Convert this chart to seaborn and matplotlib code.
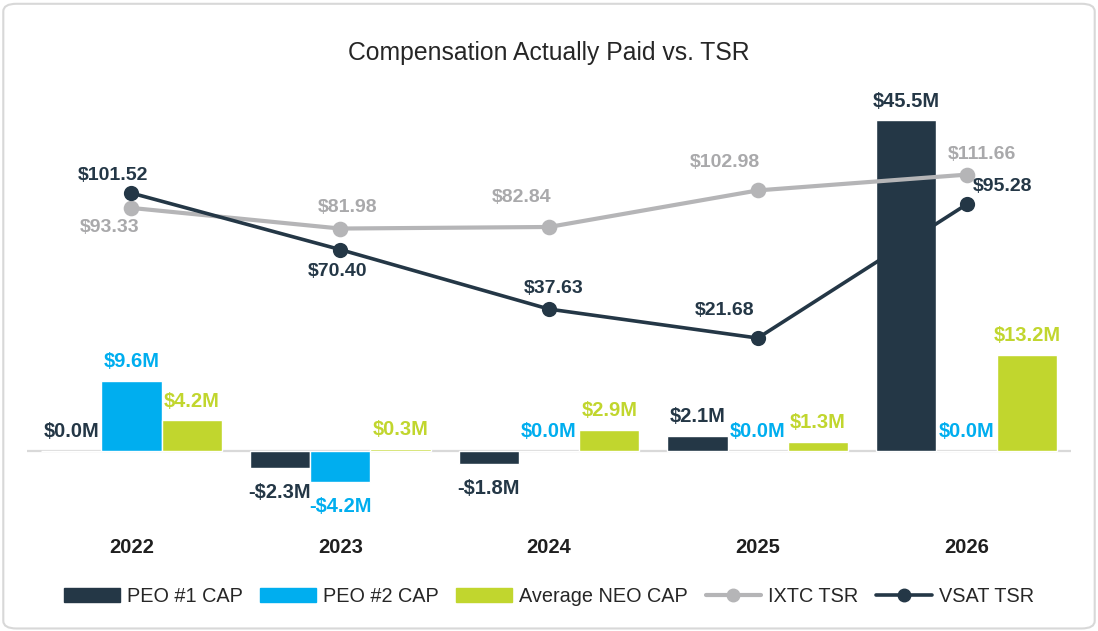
import pandas as pd
import numpy as np
import matplotlib.pyplot as plt
import seaborn as sns
from matplotlib.patches import Patch, FancyBboxPatch
from matplotlib.lines import Line2D

# data
years = ['2022', '2023', '2024', '2025', '2026']
peo1_cap = [0.0, -2.3, -1.8, 2.1, 45.5]
peo2_cap = [9.6, -4.2, 0.0, 0.0, 0.0]
neo_cap = [4.2, 0.3, 2.9, 1.3, 13.2]
ixtc_tsr = [93.33, 81.98, 82.84, 102.98, 111.66]
vsat_tsr = [101.52, 70.40, 37.63, 21.68, 95.28]
series = ['PEO #1 CAP', 'PEO #2 CAP', 'Average NEO CAP']

dark = '#243746'
cyan = '#00AEEF'
lime = '#C1D62E'
grey_line = '#B5B5B7'
grey_text = '#A9A9AB'
colors = {series[0]: dark, series[1]: cyan, series[2]: lime}

bars = pd.DataFrame({
    'year': years * 3,
    'value': peo1_cap + peo2_cap + neo_cap,
    'series': [s for s in series for _ in years],
})

sns.set_style('white')
plt.rcParams['font.family'] = ['Liberation Sans', 'DejaVu Sans']

fig = plt.figure(figsize=(10.98, 6.31), dpi=100)
ax = fig.add_axes([0.0246, 0.1759, 0.9508, 0.6656])

sns.barplot(data=bars, x='year', y='value', hue='series', hue_order=series,
            palette=colors, width=0.865, saturation=1, ax=ax, legend=False)
ax.set_xlim(-0.5, 4.5)
ax.set_ylim(-9.49, 48.28)
ax.axhline(0, color='#D9D9D9', lw=1.6, zorder=0.5)
for s in ax.spines.values():
    s.set_visible(False)
ax.set_yticks([])
ax.set_xlabel('')
ax.set_ylabel('')
ax.tick_params(axis='x', length=0, pad=13, labelsize=14.5)
for t in ax.get_xticklabels():
    t.set_fontweight('bold')
    t.set_color('#1f1f1f')

# positive labels sit a bit closer to the bar than negative ones
for cont, s in zip(ax.containers, series):
    hs = [b.get_height() for b in cont]
    pos = [('$%.1fM' % h) if h >= 0 else '' for h in hs]
    neg = [('-$%.1fM' % abs(h)) if h < 0 else '' for h in hs]
    ax.bar_label(cont, labels=pos, padding=7, fontsize=14.5,
                 fontweight='bold', color=colors[s])
    ax.bar_label(cont, labels=neg, padding=11, fontsize=14.5,
                 fontweight='bold', color=colors[s])

# TSR lines on a hidden second axis
ax2 = ax.twinx()
sns.pointplot(x=years, y=ixtc_tsr, ax=ax2, color=grey_line, errorbar=None,
              markersize=9, linewidth=3)
sns.pointplot(x=years, y=vsat_tsr, ax=ax2, color=dark, errorbar=None,
              markersize=9, linewidth=2.6)
ax2.set_xlim(-0.5, 4.5)
ax2.set_ylim(-78.5, 152.75)
ax2.set_yticks([])
for s in ax2.spines.values():
    s.set_visible(False)

ixtc_off = [(-16, -14), (5, 15), (-20, 21), (-24, 20), (11, 14.5)]
vsat_off = [(-13, 13), (-2, -16), (3.5, 15), (-24, 20), (26, 13)]
for i, (a, b) in enumerate(zip(ixtc_tsr, vsat_tsr)):
    ax2.annotate('$%.2f' % a, (i, a), xytext=ixtc_off[i], textcoords='offset points',
                 ha='center', va='center', fontsize=14, fontweight='bold', color=grey_text)
    ax2.annotate('$%.2f' % b, (i, b), xytext=vsat_off[i], textcoords='offset points',
                 ha='center', va='center', fontsize=14, fontweight='bold', color=dark)

fig.suptitle('Compensation Actually Paid vs. TSR', y=0.935, fontsize=17.8, color='#262626')

handles = [Patch(color=dark), Patch(color=cyan), Patch(color=lime),
           Line2D([], [], color=grey_line, lw=3, marker='o', markersize=9),
           Line2D([], [], color=dark, lw=2.6, marker='o', markersize=9)]
fig.legend(handles, series + ['IXTC TSR', 'VSAT TSR'], loc='center', ncol=5,
           bbox_to_anchor=(0.5, 0.055), frameon=False, fontsize=14.3,
           handlelength=2.8, handleheight=0.75, handletextpad=0.35, columnspacing=0.9)

fig.patches.append(FancyBboxPatch((0.003, 0.004), 0.994, 0.99,
                                  boxstyle='round,pad=0,rounding_size=0.012',
                                  transform=fig.transFigure, fill=False,
                                  edgecolor='#D8D8D8', lw=1.5))

plt.savefig('out.png', dpi=100)
